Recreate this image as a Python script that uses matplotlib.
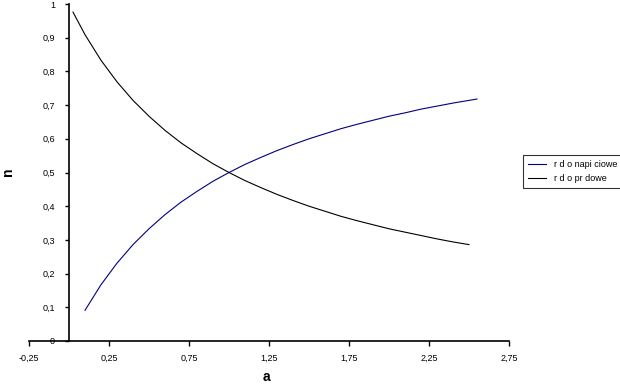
import matplotlib
matplotlib.use("Agg")
import matplotlib.pyplot as plt
from matplotlib.ticker import FuncFormatter

# Data
a_voltage = [0.1, 0.2, 0.3, 0.4, 0.5, 0.6, 0.7, 0.8, 0.9, 1.0, 1.1, 1.2, 1.3,
             1.4, 1.5, 1.6, 1.7, 1.8, 1.9, 2.0, 2.1, 2.2, 2.3, 2.4, 2.5, 2.55]
n_voltage = [0.091, 0.167, 0.231, 0.286, 0.333, 0.375, 0.412, 0.444, 0.474,
             0.5, 0.524, 0.545, 0.565, 0.583, 0.6, 0.615, 0.630, 0.643, 0.655,
             0.667, 0.677, 0.688, 0.697, 0.706, 0.714, 0.718]
a_current = [0.025, 0.1, 0.2, 0.3, 0.4, 0.5, 0.6, 0.7, 0.8, 0.9, 1.0, 1.1, 1.2,
             1.3, 1.4, 1.5, 1.6, 1.7, 1.8, 1.9, 2.0, 2.1, 2.2, 2.3, 2.4, 2.5]
n_current = [0.976, 0.909, 0.833, 0.769, 0.714, 0.667, 0.625, 0.588, 0.556,
             0.526, 0.5, 0.476, 0.455, 0.435, 0.417, 0.4, 0.385, 0.370, 0.357,
             0.345, 0.333, 0.323, 0.313, 0.303, 0.294, 0.286]
series_labels = ["r d o napi ciowe", "r d o pr dowe"]
x_ticks = [-0.25, 0.25, 0.75, 1.25, 1.75, 2.25, 2.75]
y_ticks = [0, 0.1, 0.2, 0.3, 0.4, 0.5, 0.6, 0.7, 0.8, 0.9, 1]

plt.rcParams['font.family'] = ['Liberation Sans', 'DejaVu Sans']

fig = plt.figure(figsize=(6.2, 3.86), dpi=100)
ax = fig.add_axes([29/620, 45/386, 480/620, 337/386])

ax.plot(a_voltage, n_voltage, color='#000080', lw=0.8, label=series_labels[0])
ax.plot(a_current, n_current, color='black', lw=0.8, label=series_labels[1])

ax.set_xlim(-0.25, 2.75)
ax.set_ylim(0, 1)
ax.spines['top'].set_visible(False)
ax.spines['right'].set_visible(False)
ax.spines['left'].set_position(('data', 0))
ax.spines['bottom'].set_position(('data', 0))
ax.spines['left'].set_linewidth(1.2)
ax.spines['bottom'].set_linewidth(1.2)

ax.set_xticks(x_ticks)
ax.set_yticks(y_ticks)

def fmt(v, pos):
    if abs(v) < 1e-9:
        return "0"
    if abs(v - 1) < 1e-9:
        return "1"
    s = ("%.2f" % v).rstrip('0').rstrip('.')
    return s.replace('.', ',')

ax.xaxis.set_major_formatter(FuncFormatter(fmt))
ax.yaxis.set_major_formatter(FuncFormatter(fmt))
ax.tick_params(axis='x', labelsize=6.5, length=3.5, width=1, direction='out', pad=6)
ax.tick_params(axis='y', labelsize=6.5, length=3, width=1, direction='out', pad=7)

fig.text(8/620, 1 - 172/386, "n", rotation=90, fontsize=10, fontweight='bold',
         ha='center', va='center')
fig.text(266/620, 1 - 377/386, "a", fontsize=10, fontweight='bold',
         ha='center', va='center')

leg = ax.legend(loc='center left', bbox_to_anchor=(523/620, 1 - 171.5/386),
                bbox_transform=fig.transFigure, fontsize=6.5, frameon=True,
                fancybox=False, handlelength=2.0, borderpad=0.55,
                labelspacing=0.55, handletextpad=0.9, borderaxespad=0)
leg.get_frame().set_edgecolor('black')
leg.get_frame().set_linewidth(0.8)

fig.savefig("out.png", dpi=100)
